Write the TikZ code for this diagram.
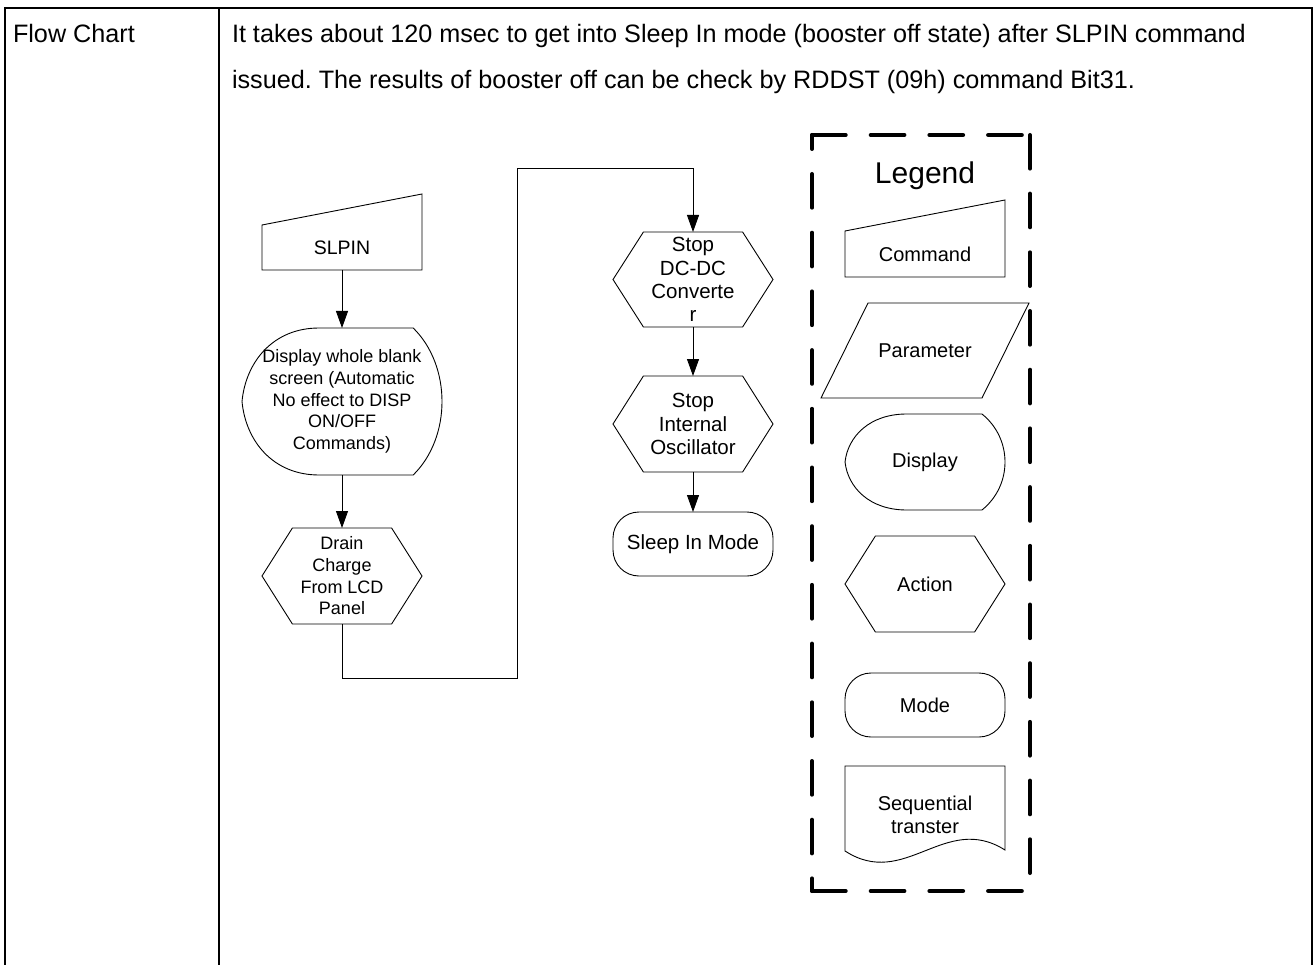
\documentclass[tikz,border=0pt]{standalone}
\usepackage{fontspec}
\setmainfont{Liberation Sans}
\usetikzlibrary{arrows.meta,calc}
\frenchspacing
\newcommand\outl[4]{\begin{scope}[shift={(#1.north west)},x=#2pt,y=-#3pt]\draw[ol] #4;\end{scope}}
\newcommand\hexpath{(0,0.5) -- (0.19,0) -- (0.81,0) -- (1,0.5) -- (0.81,1) -- (0.19,1) -- cycle}
\newcommand\disppath{(0.385,0) -- (0.856,0) .. controls (1.048,0.257) and (1.048,0.743) .. (0.856,1) -- (0.385,1) .. controls (0.156,1) and (0.019,0.771) .. (0,0.5) .. controls (0.019,0.229) and (0.156,0) .. cycle}
\begin{document}
\begin{tikzpicture}[x=1pt,y=-1pt,
  ol/.style={draw=black,line width=0.9pt,line join=miter},
  con/.style={draw=black,line width=0.9pt,-{Triangle[length=17pt,width=12pt]}},
  box/.style={inner sep=0pt,outer sep=0pt,align=center,text=black},
  hdr/.style={inner sep=0pt,outer sep=0pt,anchor=base west,font=\fontsize{25.2}{30}\selectfont},
  fsmall/.style={font=\fontsize{18}{21.7}\selectfont},
  fmid/.style={font=\fontsize{20.5}{23.2}\selectfont},
  fleg/.style={font=\fontsize{20}{23}\selectfont},
  legline/.style={line width=4pt,line cap=round,dash pattern=on 33.7pt off 25pt}
]
\useasboundingbox (0,0) rectangle (1316,965);
% table
\draw[line width=2pt] (5,970) -- (5,8.5) -- (1312,8.5) -- (1312,970);
\draw[line width=2pt] (219,8.5) -- (219,970);
\node[hdr] (hflow) at (13,43) {Flow Chart};
\node[hdr] (desc1) at (232,43) {It takes about 120 msec to get into Sleep In mode (booster off state) after SLPIN command};
\node[hdr] (desc2) at (232,89) {issued. The results of booster off can be check by RDDST (09h) command Bit31.};

% flowchart left column
\node[box,font=\fontsize{19.5}{22}\selectfont,minimum width=160pt,minimum height=45pt] (slpin) at (342,247.5) {SLPIN};
\outl{slpin}{160}{45}{(0,0) -- (1,-0.689) -- (1,1) -- (0,1) -- cycle}
\node[box,fsmall,minimum width=200pt,minimum height=147pt] (disp) at (342,401.5) {Display whole blank\\screen (Automatic\\No effect to DISP\\ON/OFF\\Commands)};
\outl{disp}{200}{147}{\disppath}
\node[box,fsmall,minimum width=160pt,minimum height=96pt] (drain) at (342,576) {Drain\\Charge\\From LCD\\Panel};
\outl{drain}{160}{96}{\hexpath}

% right column
\node[box,fmid,minimum width=160pt,minimum height=95pt] (stopdc) at (693,279.5) {Stop\\DC-DC\\Converte\\r};
\outl{stopdc}{160}{95}{\hexpath}
\node[box,fmid,minimum width=160pt,minimum height=96pt] (stopint) at (693,424) {Stop\\Internal\\Oscillator};
\outl{stopint}{160}{96}{\hexpath}
\node[box,fmid,draw,line width=0.9pt,rounded corners=26pt,minimum width=160pt,minimum height=64pt] (sleep) at (693,544) {Sleep In Mode};

% connectors
\coordinate (e1) at (517,678);
\coordinate (e2) at (517,168);
\draw[con] (slpin.south) -- (disp.north);
\draw[con] (disp.south) -- (drain.north);
\draw[con] (drain.south) |- (e1) -- (e2) -| (stopdc.north);
\draw[con] (stopdc.south) -- (stopint.north);
\draw[con] (stopint.south) -- (sleep.north);

% legend
\draw[legline,dash phase=19.7pt] (812,135) -- (812,891);
\draw[legline] (812,891) -- (1030,891);
\draw[legline,dash phase=40.7pt] (1030,891) -- (1030,135);
\draw[legline] (812,135) -- (1030,135);
\node[inner sep=0pt,anchor=base,font=\fontsize{30}{34}\selectfont] (legtitle) at (925,184) {Legend};
\node[box,fleg,minimum width=160pt,minimum height=46pt] (lcmd) at (925,254) {Command};
\outl{lcmd}{160}{46}{(0,0) -- (1,-0.674) -- (1,1) -- (0,1) -- cycle}
\node[box,fleg,minimum width=208pt,minimum height=95pt] (lpar) at (925,350.5) {Parameter};
\outl{lpar}{208}{95}{(0.226,0) -- (1,0) -- (0.774,1) -- (0,1) -- cycle}
\node[box,fleg,minimum width=160pt,minimum height=96pt] (ldisp) at (925,462) {Display};
\outl{ldisp}{160}{96}{\disppath}
\node[box,fleg,minimum width=160pt,minimum height=96pt] (lact) at (925,584) {Action};
\outl{lact}{160}{96}{\hexpath}
\node[box,fleg,draw,line width=0.9pt,rounded corners=26pt,minimum width=160pt,minimum height=64pt] (lmode) at (925,705) {Mode};
\node[box,fleg,minimum width=160pt,minimum height=97pt] (lseq) at (925,814.5) {Sequential\\transter};
\outl{lseq}{160}{97}{(0,0) -- (1,0) -- (1,0.866) .. controls (0.625,0.474) and (0.375,1.278) .. (0,0.876) -- cycle}
\end{tikzpicture}
\end{document}
